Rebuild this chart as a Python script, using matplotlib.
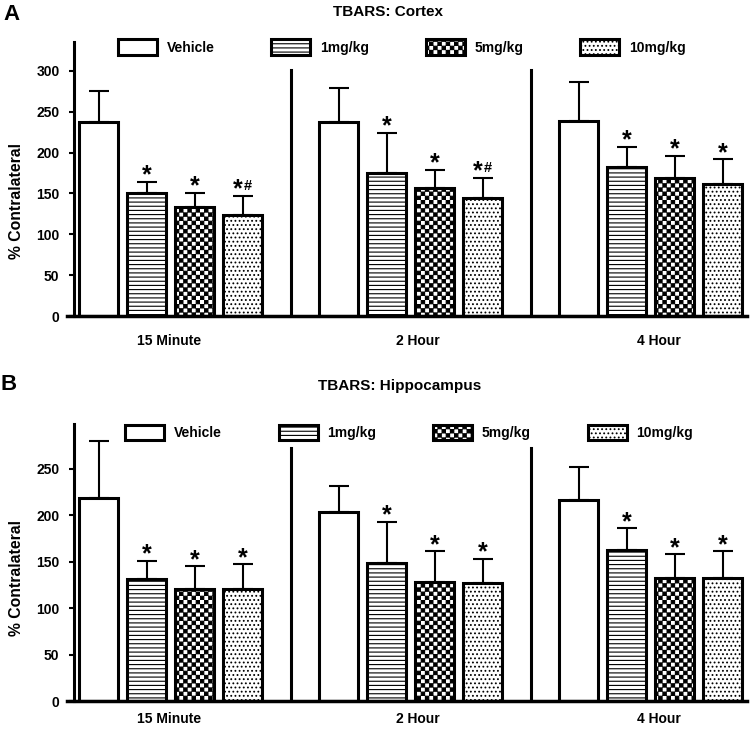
import warnings
import numpy as np
import matplotlib
matplotlib.use("Agg")
import matplotlib.pyplot as plt
from matplotlib import hatch as mhatch
from matplotlib.path import Path

warnings.filterwarnings("ignore")  # custom hatch letter triggers a deprecation warning

timepoints = ["15 Minute", "2 Hour", "4 Hour"]
doses = ["Vehicle", "1mg/kg", "5mg/kg", "10mg/kg"]

# % contralateral, one row per timepoint, one column per dose
cortex_mean = [[238, 151, 134, 124], [237, 175, 157, 145], [239, 182, 169, 162]]
cortex_sem = [[38, 13, 17, 23], [42, 49, 22, 24], [48, 25, 27, 30]]
cortex_sig = [["", "*", "*", "*#"], ["", "*", "*", "*#"], ["", "*", "*", "*"]]

hippo_mean = [[219, 131, 121, 121], [204, 149, 128, 127], [216, 163, 132, 132]]
hippo_sem = [[61, 20, 24, 26], [28, 44, 33, 26], [36, 23, 26, 29]]
hippo_sig = [["", "*", "*", "*"], ["", "*", "*", "*"], ["", "*", "*", "*"]]

cortex_yticks = [0, 50, 100, 150, 200, 250, 300]
hippo_yticks = [0, 50, 100, 150, 200, 250]


class CheckerHatch(mhatch.HatchPatternBase):
    """Filled checkerboard, selected with the letter 'c'."""

    def __init__(self, hatch, density):
        self.n = hatch.count("c") * density
        self.num_vertices = (self.n * self.n // 2) * 5

    def set_vertices_and_codes(self, vertices, codes):
        s = 1.0 / self.n
        pad = 0.004
        i = 0
        for r in range(self.n):
            for c in range(r % 2, self.n, 2):
                x0, y0 = c * s + pad, r * s + pad
                x1, y1 = (c + 1) * s - pad, (r + 1) * s - pad
                vertices[i:i + 5] = [(x0, y0), (x1, y0), (x1, y1), (x0, y1), (x0, y0)]
                codes[i:i + 5] = [Path.MOVETO, Path.LINETO, Path.LINETO,
                                  Path.LINETO, Path.CLOSEPOLY]
                i += 5


mhatch._hatch_types.append(CheckerHatch)

plt.rcParams["font.family"] = ["Liberation Sans", "DejaVu Sans"]
plt.rcParams["font.weight"] = "bold"
plt.rcParams["hatch.linewidth"] = 0.8

HATCHES = [None, "----", "cccc", "...."]
LABEL_NUDGE = [-0.03, 0.15, 0.18]


def draw_panel(ax, means, sems, sig, yticks, ymax, sep_top, label_drop, legend_xy):
    means = np.array(means)
    sems = np.array(sems)
    groups = np.arange(len(timepoints)) * 5

    for i, dose in enumerate(doses):
        x = groups + i
        ax.bar(x, means[:, i], width=0.82, color="white", edgecolor="black",
               linewidth=2.2, hatch=HATCHES[i], label=dose, zorder=2)
        ax.errorbar(x, means[:, i], yerr=[np.zeros(len(x)), sems[:, i]], fmt="none",
                    ecolor="black", elinewidth=1.5, capsize=7, capthick=1.5, zorder=1)
        for g in range(len(timepoints)):
            s = sig[g][i]
            if not s:
                continue
            top = means[g, i] + sems[g, i]
            dx = -3.2 if "#" in s else 0
            ax.annotate("*", (x[g], top), xytext=(dx, -0.5), textcoords="offset points",
                        ha="center", va="baseline", fontsize=18)
            if "#" in s:
                ax.annotate("#", (x[g], top), xytext=(3.6, 4.0), textcoords="offset points",
                            ha="center", va="baseline", fontsize=10.5)

    # separators between the time points
    for g in groups[1:]:
        ax.plot([g - 1, g - 1], [0, sep_top], color="black", lw=2.2, zorder=3)

    for g, name in enumerate(timepoints):
        ax.annotate(name, (groups[g] + 1.5 + LABEL_NUDGE[g], 0), xytext=(0, -label_drop),
                    textcoords="offset points", ha="center", va="center", fontsize=10)

    ax.set_xlim(-0.67, 13.5)
    ax.set_ylim(0, ymax)
    ax.set_yticks(yticks)
    ax.set_xticks([])
    ax.tick_params(axis="y", length=3.6, width=1.5, direction="out", pad=7, labelsize=10)
    ax.spines["top"].set_visible(False)
    ax.spines["right"].set_visible(False)
    ax.spines["left"].set_position(("data", -0.51))
    ax.spines["left"].set_linewidth(2.2)
    ax.spines["bottom"].set_linewidth(2.5)

    ax.legend(loc="center", bbox_to_anchor=legend_xy, ncol=4, frameon=False,
              fontsize=10, handlelength=2.8, handleheight=1.3, handletextpad=0.7,
              columnspacing=4.1, borderpad=0)


fig = plt.figure(figsize=(7.5, 7.29), dpi=100)
ax_a = fig.add_axes([0.0887, 0.5665, 0.9067, 0.3765])
ax_b = fig.add_axes([0.0887, 0.0384, 0.9067, 0.3796])

draw_panel(ax_a, cortex_mean, cortex_sem, cortex_sig, cortex_yticks, 336, 301, 18, (0.493, 0.98))
draw_panel(ax_b, hippo_mean, hippo_sem, hippo_sig, hippo_yticks, 298, 272, 13, (0.504, 0.971))

ax_a.text(-0.074, 0.42, "% Contralateral", transform=ax_a.transAxes, rotation=90,
          ha="center", va="center", fontsize=11.3)
ax_b.text(-0.074, 0.445, "% Contralateral", transform=ax_b.transAxes, rotation=90,
          ha="center", va="center", fontsize=11.3)

fig.text(388 / 750, 1 - 12 / 729, "TBARS: Cortex", ha="center", va="center", fontsize=11)
fig.text(400 / 750, 1 - 386 / 729, "TBARS: Hippocampus", ha="center", va="center", fontsize=11)
fig.text(11 / 750, 1 - 14 / 729, "A", ha="center", va="center", fontsize=16)
fig.text(9 / 750, 1 - 385 / 729, "B", ha="center", va="center", fontsize=16)

fig.savefig("out.png", dpi=100)
